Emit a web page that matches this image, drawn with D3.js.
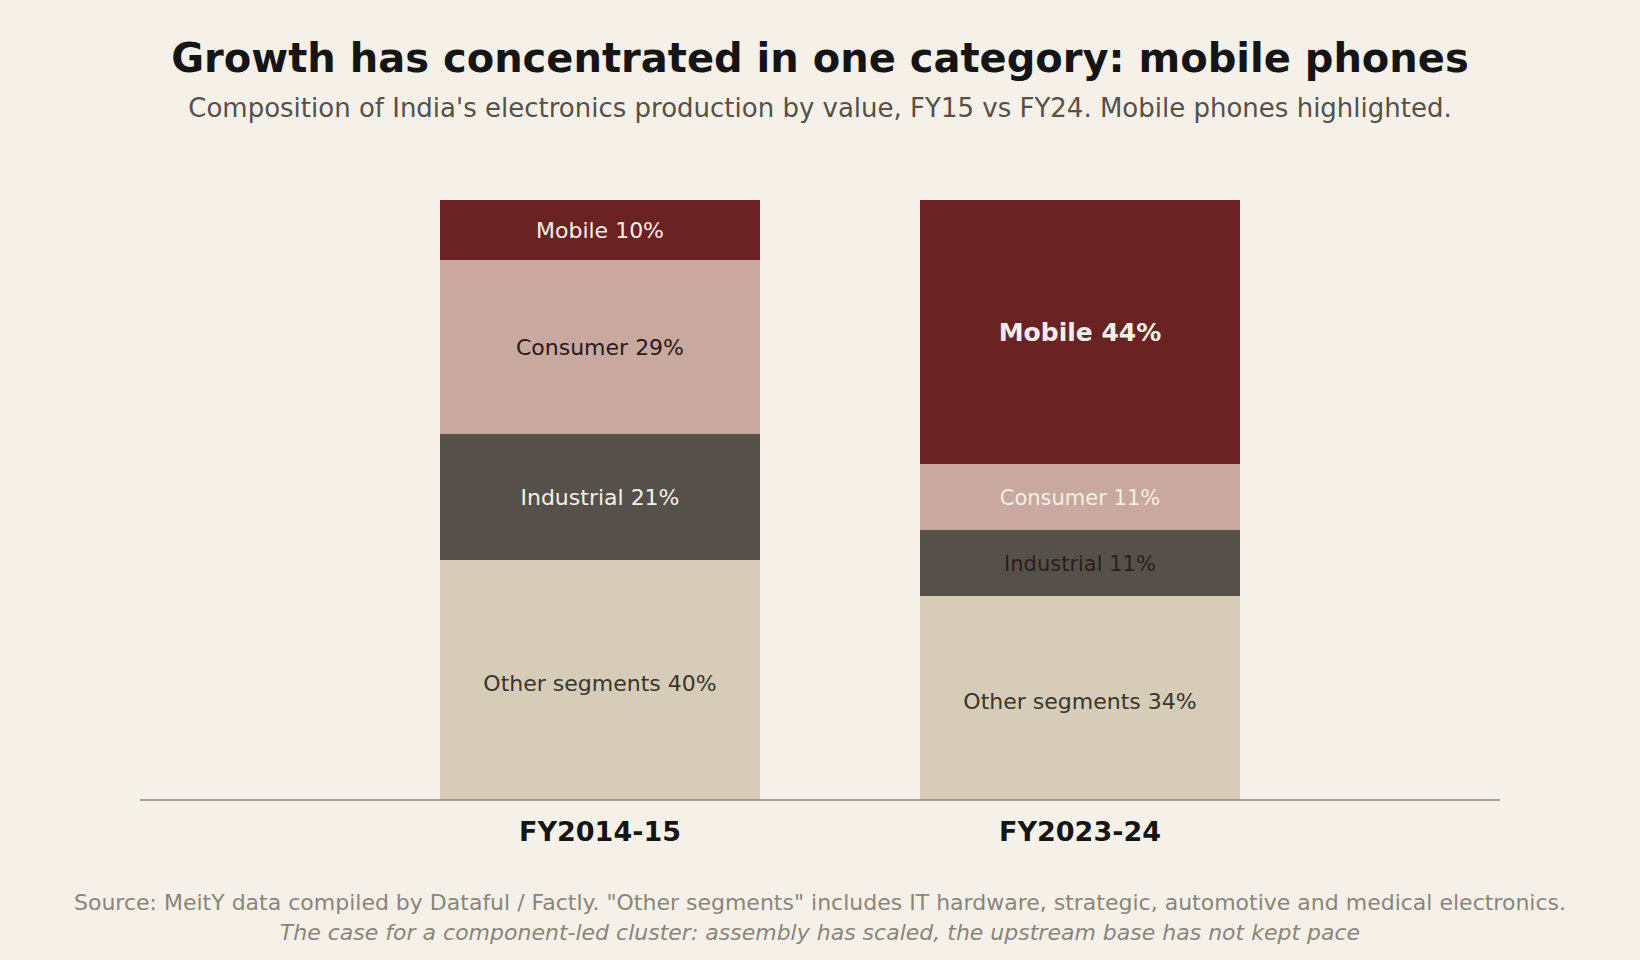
<!DOCTYPE html>
<html lang="en">
<head>
  <meta charset="UTF-8">
  <title>Growth has concentrated in one category: mobile phones</title>
  <script src="https://d3js.org/d3.v7.min.js"></script>
  <style>
    html, body { margin: 0; padding: 0; background: #f5f1e9; }
    body { font-family: "DejaVu Sans", sans-serif; }
  </style>
</head>
<body>
  <div id="chart"></div>
  <script>
    // data
    const years = ["FY2014-15", "FY2023-24"];
    const segments = ["Other segments", "Industrial", "Consumer", "Mobile"];   // bottom to top
    const shares = {
      "FY2014-15": [40, 21, 29, 10],
      "FY2023-24": [34, 11, 11, 44]
    };
    const segColors = {
      "Other segments": "#d7ccb7",
      "Industrial": "#55514a",
      "Consumer": "#c9a89f",
      "Mobile": "#6a2223"
    };
    // label ink per bar (reference uses different ink on the two bars)
    const labelInk = {
      "FY2014-15": ["#3a352e", "#f5efe6", "#2a1a1a", "#f5efe6"],
      "FY2023-24": ["#3a352e", "#2e1c1c", "#f5efe6", "#f5efe6"]
    };

    const W = 1640, H = 960;
    const baseY = 800, topY = 200;

    const svg = d3.select("#chart").append("svg")
      .attr("width", W).attr("height", H)
      .style("background", "#f5f1e9");

    svg.append("text")
      .attr("x", W / 2).attr("y", 72)
      .attr("text-anchor", "middle")
      .style("font-size", "40px").style("font-weight", "bold")
      .attr("fill", "#151515")
      .text("Growth has concentrated in one category: mobile phones");

    svg.append("text")
      .attr("x", W / 2).attr("y", 117)
      .attr("text-anchor", "middle")
      .style("font-size", "26px")
      .attr("fill", "#555049")
      .text("Composition of India's electronics production by value, FY15 vs FY24. Mobile phones highlighted.");

    const x = d3.scaleBand()
      .domain(years)
      .range([440, 1240])
      .paddingInner(1 / 3)
      .paddingOuter(0);

    const y = d3.scaleLinear().domain([0, 100]).range([baseY, topY]);

    const rows = [];
    years.forEach(yr => {
      let acc = 0;
      shares[yr].forEach((v, i) => {
        rows.push({ year: yr, seg: segments[i], v, y0: acc, y1: acc + v, ink: labelInk[yr][i] });
        acc += v;
      });
    });

    svg.selectAll(".seg")
      .data(rows)
      .enter().append("rect")
      .attr("class", "seg")
      .attr("x", d => x(d.year))
      .attr("width", x.bandwidth())
      .attr("y", d => y(d.y1))
      .attr("height", d => y(d.y0) - y(d.y1))
      .attr("fill", d => segColors[d.seg]);

    const hero = d => d.seg === "Mobile" && d.year === "FY2023-24";
    const labelSize = d => {
      if (hero(d)) return "25px";
      if (d.year === "FY2023-24" && d.seg !== "Other segments") return "21px";
      return "22px";
    };

    svg.selectAll(".lbl")
      .data(rows)
      .enter().append("text")
      .attr("class", "lbl")
      .attr("x", d => x(d.year) + x.bandwidth() / 2)
      .attr("y", d => (y(d.y0) + y(d.y1)) / 2)
      .attr("dy", d => d.seg === "Other segments" ? "0.5em" : "0.36em")
      .attr("text-anchor", "middle")
      .style("font-size", labelSize)
      .style("font-weight", d => hero(d) ? "bold" : "normal")
      .attr("fill", d => d.ink)
      .text(d => `${d.seg} ${d.v}%`);

    // baseline
    svg.append("line")
      .attr("x1", 140).attr("x2", 1500)
      .attr("y1", baseY).attr("y2", baseY)
      .attr("stroke", "#8c877a").attr("stroke-width", 1.6);

    const xAxis = svg.append("g")
      .attr("transform", `translate(0,${baseY})`)
      .call(d3.axisBottom(x).tickSize(0).tickPadding(22));
    xAxis.select(".domain").remove();
    xAxis.selectAll("text")
      .style("font-family", "DejaVu Sans, sans-serif")
      .style("font-size", "27px").style("font-weight", "bold")
      .attr("fill", "#151515");

    svg.append("text")
      .attr("x", W / 2).attr("y", 910)
      .attr("text-anchor", "middle")
      .style("font-size", "22px")
      .attr("fill", "#8a857a")
      .text('Source: MeitY data compiled by Dataful / Factly. "Other segments" includes IT hardware, strategic, automotive and medical electronics.');

    svg.append("text")
      .attr("x", W / 2).attr("y", 940)
      .attr("text-anchor", "middle")
      .style("font-size", "22px").style("font-style", "italic")
      .attr("fill", "#8a857a")
      .text("The case for a component-led cluster: assembly has scaled, the upstream base has not kept pace");
  </script>
</body>
</html>
